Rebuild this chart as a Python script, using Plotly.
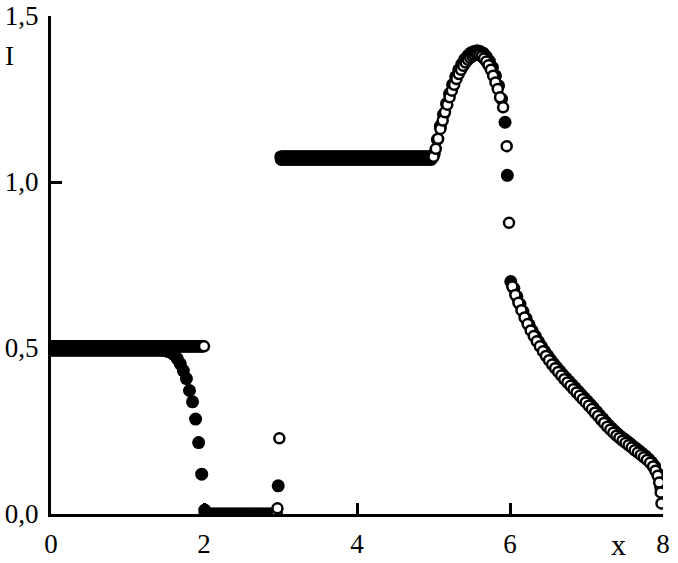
import numpy as np
import plotly.graph_objects as go

# ---------------- data ----------------
# filled-circle series
filled_left_x = np.round(np.arange(0.01, 1.46, 0.04), 2)
filled_left_level = 0.493
filled_drop_x = [1.49, 1.53, 1.57, 1.61, 1.65, 1.69, 1.73, 1.77, 1.81, 1.85, 1.89, 1.93, 1.97, 2.01]
filled_drop_y = [0.492, 0.490, 0.486, 0.479, 0.468, 0.452, 0.432, 0.408, 0.372, 0.338, 0.286, 0.215, 0.120, 0.012]
filled_zero_x = np.round(np.arange(2.05, 2.94, 0.04), 2)
filled_zero_level = 0.0
filled_jump_x = [2.97]
filled_jump_y = [0.085]
filled_top_x = np.round(np.arange(3.01, 4.98, 0.04), 2)
filled_top_level = 1.068
filled_arch_x = [5.01, 5.05, 5.09, 5.13, 5.17, 5.21, 5.25, 5.29, 5.33, 5.37, 5.41, 5.45, 5.49,
                 5.53, 5.57, 5.61, 5.65, 5.69, 5.73, 5.77, 5.81, 5.85, 5.89, 5.935, 5.965, 6.01]
filled_arch_y = [1.085, 1.128, 1.168, 1.203, 1.236, 1.266, 1.293, 1.317, 1.338, 1.355, 1.370, 1.381, 1.389,
                 1.393, 1.395, 1.393, 1.388, 1.378, 1.364, 1.345, 1.320, 1.290, 1.250, 1.180, 1.020, 0.700]
filled_tail_x = [6.05, 6.09, 6.13, 6.17, 6.21, 6.25, 6.29, 6.33, 6.37, 6.41, 6.45, 6.49, 6.53, 6.57,
                 6.61, 6.65, 6.69, 6.73, 6.77, 6.81, 6.85, 6.89, 6.93, 6.97, 7.01, 7.05, 7.09, 7.13,
                 7.17, 7.21, 7.25, 7.29, 7.33, 7.37, 7.41, 7.45, 7.49, 7.53, 7.57, 7.61, 7.65, 7.69,
                 7.73, 7.77, 7.81, 7.85, 7.89, 7.93, 7.97]
filled_tail_y = [0.680, 0.655, 0.632, 0.610, 0.589, 0.570, 0.552, 0.536, 0.520, 0.505, 0.491, 0.478, 0.465, 0.453,
                 0.442, 0.431, 0.420, 0.410, 0.400, 0.390, 0.380, 0.370, 0.360, 0.350, 0.340, 0.330, 0.320, 0.309,
                 0.298, 0.288, 0.277, 0.267, 0.258, 0.249, 0.241, 0.233, 0.226, 0.219, 0.212, 0.204, 0.197, 0.190,
                 0.182, 0.175, 0.166, 0.156, 0.144, 0.122, 0.080]

# open-circle series
open_left_x = np.round(np.arange(0.0, 2.001, 0.01), 2)
open_left_level = 0.505
open_zero_x = np.round(np.arange(2.01, 2.955, 0.01), 2)
open_zero_level = 0.0
open_jump_x = [2.96, 2.985]
open_jump_y = [0.017, 0.228]
open_top_x = np.round(np.arange(3.0, 5.001, 0.01), 2)
open_top_level = 1.076
open_arch_x = [5.03, 5.06, 5.09, 5.12, 5.15, 5.18, 5.21, 5.24, 5.27, 5.30, 5.33, 5.36, 5.39, 5.42, 5.45,
               5.48, 5.51, 5.54, 5.57, 5.60, 5.63, 5.66, 5.69, 5.72, 5.75, 5.78, 5.81, 5.84, 5.87, 5.91,
               5.957, 5.987]
open_arch_y = [1.100, 1.130, 1.160, 1.185, 1.210, 1.233, 1.255, 1.275, 1.293, 1.310, 1.325, 1.338, 1.350, 1.360, 1.368,
               1.374, 1.379, 1.382, 1.383, 1.382, 1.378, 1.372, 1.363, 1.352, 1.338, 1.320, 1.300, 1.280, 1.255, 1.225,
               1.108, 0.877]
open_tail_x = [6.03, 6.07, 6.11, 6.15, 6.19, 6.23, 6.27, 6.31, 6.35, 6.39, 6.43, 6.47, 6.51, 6.55, 6.59,
               6.63, 6.67, 6.71, 6.75, 6.79, 6.83, 6.87, 6.91, 6.95, 6.99, 7.03, 7.07, 7.11, 7.15, 7.19,
               7.23, 7.27, 7.31, 7.35, 7.39, 7.43, 7.47, 7.51, 7.55, 7.59, 7.63, 7.67, 7.71, 7.75, 7.79,
               7.83, 7.87, 7.90, 7.93, 7.95, 7.97, 7.98]
open_tail_y = [0.685, 0.660, 0.636, 0.614, 0.592, 0.572, 0.553, 0.536, 0.520, 0.505, 0.490, 0.476, 0.463, 0.450, 0.439,
               0.428, 0.417, 0.406, 0.396, 0.386, 0.376, 0.366, 0.356, 0.346, 0.336, 0.326, 0.316, 0.305, 0.295, 0.284,
               0.274, 0.263, 0.254, 0.245, 0.236, 0.229, 0.221, 0.214, 0.207, 0.200, 0.192, 0.185, 0.178, 0.171, 0.163,
               0.154, 0.143, 0.130, 0.115, 0.095, 0.065, 0.032]

x_tickvals = [0, 2, 4, 6, 8]
x_ticktext = ["0", "2", "4", "6", "8"]
y_tickvals = [0.0, 0.5, 1.0, 1.5]
y_ticktext = ["0,0", "0,5", "1,0", "1,5"]

# ---------------- assemble series ----------------
filled_x = (list(filled_left_x) + filled_drop_x + list(filled_zero_x) + filled_jump_x
            + list(filled_top_x) + filled_arch_x + filled_tail_x)
filled_y = ([filled_left_level] * len(filled_left_x) + filled_drop_y
            + [filled_zero_level] * len(filled_zero_x) + filled_jump_y
            + [filled_top_level] * len(filled_top_x) + filled_arch_y + filled_tail_y)

open_x = (list(open_left_x) + list(open_zero_x) + open_jump_x + list(open_top_x)
          + open_arch_x + open_tail_x)
open_y = ([open_left_level] * len(open_left_x) + [open_zero_level] * len(open_zero_x)
          + open_jump_y + [open_top_level] * len(open_top_x) + open_arch_y + open_tail_y)

FONT = "Liberation Serif"

fig = go.Figure()
fig.add_trace(go.Scatter(
    x=filled_x, y=filled_y, mode="markers",
    marker=dict(symbol="circle", size=13, color="black", line=dict(width=0)),
    hoverinfo="skip", showlegend=False,
))
fig.add_trace(go.Scatter(
    x=open_x, y=open_y, mode="markers",
    marker=dict(symbol="circle", size=10, color="white", line=dict(width=2.5, color="black")),
    hoverinfo="skip", showlegend=False,
))

fig.update_layout(
    width=678, height=563,
    margin=dict(l=51, r=15, t=16, b=49, autoexpand=False),
    paper_bgcolor="white", plot_bgcolor="white",
    font=dict(family=FONT, size=27, color="black"),
    showlegend=False,
    hovermode=False,
    xaxis=dict(
        range=[0, 8], showgrid=False, zeroline=False, automargin=False,
        showline=True, linewidth=3, linecolor="black",
        ticks="inside", ticklen=11, tickwidth=3, tickcolor="black",
        tickvals=x_tickvals, ticktext=x_ticktext,
        tickfont=dict(family=FONT, size=27, color="black"),
        ticklabelstandoff=4,
    ),
    yaxis=dict(
        range=[0, 1.5], showgrid=False, zeroline=False, automargin=False,
        showline=True, linewidth=3, linecolor="black",
        ticks="inside", ticklen=11, tickwidth=3, tickcolor="black",
        tickvals=y_tickvals, ticktext=y_ticktext,
        tickfont=dict(family=FONT, size=27, color="black"),
        ticklabelstandoff=4,
    ),
    annotations=[
        dict(text="I", x=-0.067, y=0.92, xref="paper", yref="paper", showarrow=False,
             font=dict(family=FONT, size=27, color="black"), xanchor="center", yanchor="middle"),
        dict(text="x", x=0.928, y=-0.062, xref="paper", yref="paper", showarrow=False,
             font=dict(family=FONT, size=30, color="black"), xanchor="center", yanchor="middle"),
    ],
)

fig.write_html("out.html", config={"displayModeBar": False},
               post_script="document.body.style.margin='0px';")
